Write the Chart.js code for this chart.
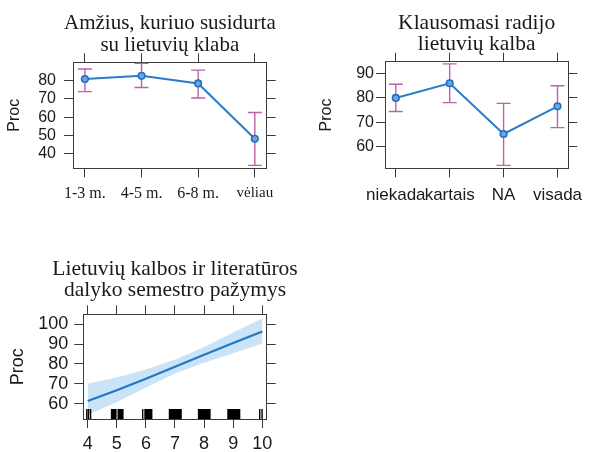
<!DOCTYPE html>
<html><head><meta charset="utf-8">
<script src="https://cdn.jsdelivr.net/npm/chart.js@4"></script>
<style>
html,body{margin:0;padding:0;background:#fff;overflow:hidden;width:591px;height:452px}
.p{position:absolute}
canvas{display:block}
</style></head><body>
<div class="p" style="left:0;top:0"><canvas id="c1" width="300" height="215"></canvas></div>
<div class="p" style="left:300px;top:0"><canvas id="c2" width="291" height="215"></canvas></div>
<div class="p" style="left:0;top:250px"><canvas id="c3" width="300" height="202"></canvas></div>
<script>
// ---------- data ----------
const ageTitle = ['Amžius, kuriuo susidurta', 'su lietuvių klaba'];
const ageCategories = ['1-3 m.', '4-5 m.', '6-8 m.', 'vėliau'];
const ageFit   = [80.9, 82.7, 78.5, 48.2];
const ageLower = [74.0, 76.3, 70.5, 33.6];
const ageUpper = [86.4, 89.5, 85.8, 62.6];
const ageYTicks = [40, 50, 60, 70, 80];

const radioTitle = ['Klausomasi radijo', 'lietuvių kalba'];
const radioCategories = ['niekada', 'kartais', 'NA', 'visada'];
const radioFit   = [79.9, 85.9, 65.2, 76.5];
const radioLower = [74.4, 78.0, 52.4, 67.8];
const radioUpper = [85.5, 93.8, 77.7, 84.9];
const radioYTicks = [60, 70, 80, 90];

const gradeTitle = ['Lietuvių kalbos ir literatūros', 'dalyko semestro pažymys'];
const gradeX     = [4, 5, 6, 7, 8, 9, 10];
const gradeFit   = [61.4, 66.8, 72.6, 78.6, 84.6, 90.6, 96.3];
const gradeUpper = [70.0, 73.2, 77.2, 82.2, 88.6, 95.8, 103.0];
const gradeLower = [54.3, 60.8, 68.2, 75.2, 80.6, 85.4, 90.3];
const gradeXTicks = [4, 5, 6, 7, 8, 9, 10];
const gradeYTicks = [60, 70, 80, 90, 100];
const gradeRug = [3.97, 4.03, 4.10,
  4.82, 4.86, 4.90, 4.94, 4.97, 5.05, 5.09, 5.13, 5.17, 5.21,
  5.89, 5.97, 6.01, 6.05, 6.09, 6.13, 6.17, 6.20,
  6.81, 6.85, 6.89, 6.93, 6.97, 7.01, 7.05, 7.09, 7.13, 7.17, 7.21,
  7.81, 7.85, 7.89, 7.93, 7.97, 8.01, 8.05, 8.09, 8.13, 8.17, 8.20,
  8.82, 8.86, 8.90, 8.94, 8.98, 9.02, 9.06, 9.10, 9.14, 9.18, 9.22,
  9.91, 9.99];

// ---------- styling ----------
const SANS = '"Liberation Sans", Arial, Helvetica, sans-serif';
const SERIF = '"Liberation Serif", "Times New Roman", serif';
const TEXT = '#1a1a1a';
const FRAME = '#3a3a3a';
const LINE = '#2a7cc9';
const CI = '#bd62a8';

// ---------- plugins ----------
const panelTitle = {
  id: 'panelTitle',
  afterDraw(chart, args, o) {
    if (!o || !o.lines) return;
    const {ctx, chartArea} = chart;
    ctx.save();
    ctx.font = o.size + 'px ' + SERIF;
    ctx.fillStyle = TEXT;
    ctx.textAlign = 'center';
    ctx.textBaseline = 'alphabetic';
    const cx = (chartArea.left + chartArea.right) / 2 + (o.dx || 0);
    o.lines.forEach((t, i) => ctx.fillText(t, cx, chartArea.top - o.above[i]));
    ctx.restore();
  }
};
const errorBars = {
  id: 'errorBars',
  beforeDatasetsDraw(chart, args, o) {
    if (!o || !o.lower) return;
    const {ctx, scales: {x, y}} = chart;
    ctx.save();
    ctx.strokeStyle = CI;
    ctx.lineWidth = 1.4;
    o.lower.forEach((lo, i) => {
      const px = x.getPixelForValue(i);
      const p1 = y.getPixelForValue(lo);
      const p2 = y.getPixelForValue(o.upper[i]);
      ctx.beginPath();
      ctx.moveTo(px, p1); ctx.lineTo(px, p2);
      ctx.moveTo(px - o.cap, p1); ctx.lineTo(px + o.cap, p1);
      ctx.moveTo(px - o.cap, p2); ctx.lineTo(px + o.cap, p2);
      ctx.stroke();
    });
    ctx.restore();
  }
};
const rug = {
  id: 'rug',
  afterDatasetsDraw(chart, args, o) {
    if (!o || !o.values) return;
    const {ctx, chartArea, scales: {x}} = chart;
    ctx.save();
    ctx.strokeStyle = '#000';
    ctx.lineWidth = 1.4;
    ctx.beginPath();
    o.values.forEach(v => {
      const px = x.getPixelForValue(v);
      ctx.moveTo(px, chartArea.bottom);
      ctx.lineTo(px, chartArea.bottom - o.length);
    });
    ctx.stroke();
    ctx.restore();
  }
};

// ---------- axes helper ----------
function frameScales(c) {
  const grid = {display: true, drawOnChartArea: false, drawTicks: true, tickLength: 9, color: FRAME, lineWidth: 1};
  const border = {display: true, color: FRAME, width: 1};
  const xt = s => { s.ticks = c.xTicks.map(v => ({value: v})); };
  const yt = s => { s.ticks = c.yTicks.map(v => ({value: v})); };
  return {
    x: {type: 'linear', position: 'bottom', min: c.xMin, max: c.xMax,
        afterBuildTicks: xt, afterFit: s => { s.height = c.bottom; },
        grid, border,
        ticks: {autoSkip: false, maxRotation: 0, minRotation: 0, padding: c.xPad, color: TEXT,
                font: c.xFont, callback: c.xLabel}},
    x2: {type: 'linear', position: 'top', min: c.xMin, max: c.xMax,
        afterBuildTicks: xt, afterFit: s => { s.height = c.top; },
        grid, border, ticks: {display: false}},
    y: {type: 'linear', position: 'left', min: c.yMin, max: c.yMax,
        afterBuildTicks: yt, afterFit: s => { s.width = c.left; },
        grid, border,
        ticks: {padding: c.yPad, color: TEXT, font: {family: SANS, size: c.yFont}},
        title: {display: true, text: 'Proc', color: TEXT, font: {family: SANS, size: c.yFont},
                padding: {top: c.titlePad, bottom: 0}}},
    y2: {type: 'linear', position: 'right', min: c.yMin, max: c.yMax,
        afterBuildTicks: yt, afterFit: s => { s.width = c.right; },
        grid, border, ticks: {display: false}}
  };
}

const base = {
  responsive: false, animation: false,
  layout: {padding: 0},
  plugins: {legend: {display: false}, tooltip: {enabled: false}}
};

// ---------- panel 1 ----------
new Chart(document.getElementById('c1'), {
  type: 'line',
  data: {datasets: [{
    data: ageFit.map((v, i) => ({x: i, y: v})),
    borderColor: LINE, borderWidth: 2, tension: 0,
    pointRadius: 3.3, pointBorderWidth: 1.6, pointBorderColor: '#1f6fc0', pointBackgroundColor: '#6aa6e0'
  }]},
  options: Object.assign({}, base, {
    plugins: Object.assign({}, base.plugins, {
      panelTitle: {lines: ageTitle, size: 21, above: [33, 11.6]},
      errorBars: {lower: ageLower, upper: ageUpper, cap: 7}
    }),
    scales: frameScales({
      xMin: -0.21, xMax: 3.21, xTicks: [0, 1, 2, 3], xLabel: v => ageCategories[v],
      xFont: ctx => ({family: SERIF, size: ctx.index === 3 ? 15 : 16}), xPad: 7,
      yMin: 32, yMax: 90.1, yTicks: ageYTicks, yFont: 16, yPad: 8, titlePad: 5.4,
      left: 73, right: 33.3, top: 62.3, bottom: 46.7
    })
  }),
  plugins: [panelTitle, errorBars]
});

// ---------- panel 2 ----------
new Chart(document.getElementById('c2'), {
  type: 'line',
  data: {datasets: [{
    data: radioFit.map((v, i) => ({x: i, y: v})),
    borderColor: LINE, borderWidth: 2, tension: 0,
    pointRadius: 3.3, pointBorderWidth: 1.6, pointBorderColor: '#1f6fc0', pointBackgroundColor: '#6aa6e0'
  }]},
  options: Object.assign({}, base, {
    plugins: Object.assign({}, base.plugins, {
      panelTitle: {lines: radioTitle, size: 21.5, above: [33, 11.6]},
      errorBars: {lower: radioLower, upper: radioUpper, cap: 7}
    }),
    scales: frameScales({
      xMin: -0.2, xMax: 3.2, xTicks: [0, 1, 2, 3], xLabel: v => radioCategories[v],
      xFont: {family: SANS, size: 17}, xPad: 7.6,
      yMin: 51.2, yMax: 94.7, yTicks: radioYTicks, yFont: 16, yPad: 2, titlePad: 17,
      left: 85, right: 13.7, top: 61.7, bottom: 46.7
    })
  }),
  plugins: [panelTitle, errorBars]
});

// ---------- panel 3 ----------
new Chart(document.getElementById('c3'), {
  type: 'line',
  data: {datasets: [
    {data: gradeX.map((x, i) => ({x, y: gradeFit[i]})), borderColor: '#1f78c4', borderWidth: 2.2,
     pointRadius: 0, tension: 0, fill: false, order: 0},
    {data: gradeX.map((x, i) => ({x, y: gradeUpper[i]})), borderWidth: 0, borderColor: 'rgba(0,0,0,0)',
     pointRadius: 0, tension: 0, fill: '+1', backgroundColor: 'rgba(140,192,236,0.45)', order: 1},
    {data: gradeX.map((x, i) => ({x, y: gradeLower[i]})), borderWidth: 0, borderColor: 'rgba(0,0,0,0)',
     pointRadius: 0, tension: 0, fill: false, order: 2}
  ]},
  options: Object.assign({}, base, {
    plugins: Object.assign({}, base.plugins, {
      panelTitle: {lines: gradeTitle, size: 21.5, above: [39.3, 18]},
      rug: {values: gradeRug, length: 10}
    }),
    scales: frameScales({
      xMin: 3.85, xMax: 10.15, xTicks: gradeXTicks, xLabel: v => String(v),
      xFont: {family: SANS, size: 18}, xPad: 5.3,
      yMin: 52.3, yMax: 105, yTicks: gradeYTicks, yFont: 18, yPad: 6, titlePad: 7.5,
      left: 83.3, right: 33.3, top: 64.3, bottom: 33
    })
  }),
  plugins: [panelTitle, rug]
});
</script>
</body></html>
